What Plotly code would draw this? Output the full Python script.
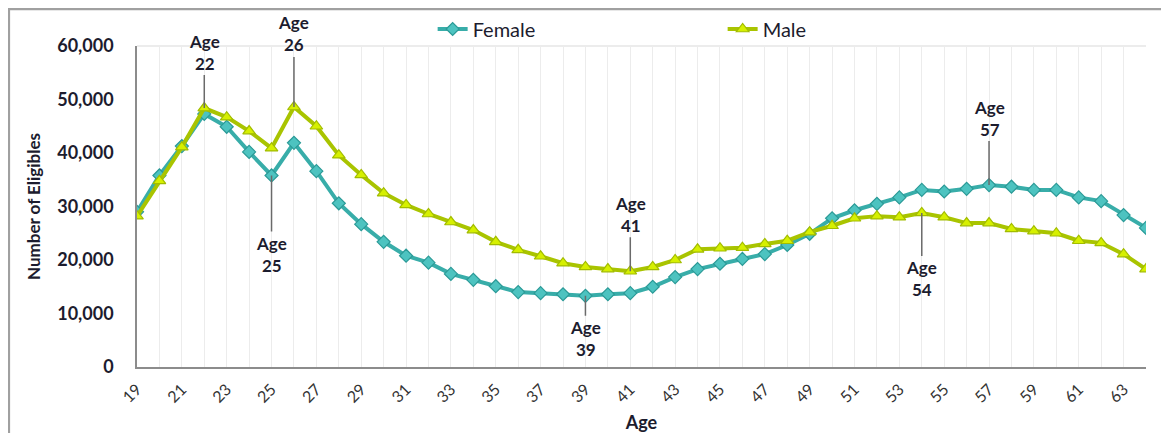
import plotly.graph_objects as go

ages = list(range(19, 65))
female = [29000, 35800, 41300, 47300, 44900, 40200, 35800, 41900, 36600, 30600,
          26700, 23400, 20800, 19500, 17400, 16300, 15100, 14000, 13800, 13600,
          13300, 13600, 13800, 15000, 16800, 18300, 19300, 20200, 21100, 22800,
          24900, 27800, 29300, 30500, 31700, 33100, 32800, 33300, 34000, 33700,
          33100, 33100, 31700, 31000, 28400, 26000]
male = [28200, 34800, 41100, 48400, 46700, 44100, 40900, 48600, 45000, 39600,
        35900, 32500, 30300, 28600, 27100, 25600, 23400, 21900, 20700, 19400,
        18700, 18300, 17900, 18700, 20000, 22000, 22200, 22300, 23000, 23600,
        25200, 26400, 27800, 28200, 28000, 28800, 28000, 26900, 26900, 25800,
        25400, 25000, 23600, 23200, 21100, 18300]
tick_vals = list(range(19, 65, 2))
y_ticks = [0, 10000, 20000, 30000, 40000, 50000, 60000]

# callouts: (age, series, offset)
callouts = [(22, "male", -56), (26, "male", -73), (25, "female", 79),
            (41, "male", -57), (39, "female", 43), (57, "female", -67),
            (54, "male", 66)]

FONT = "Lato, 'Open Sans', sans-serif"
TXT = "#1c1c2e"

fig = go.Figure()
fig.add_trace(go.Scatter(
    x=ages, y=female, name="Female", mode="lines+markers",
    line=dict(color="#38ADA9", width=4),
    marker=dict(symbol="diamond", size=10, color="#4DC3C0",
                line=dict(color="#2B9A97", width=1.2))))
fig.add_trace(go.Scatter(
    x=ages, y=male, name="Male", mode="lines+markers",
    line=dict(color="#A9C400", width=4),
    marker=dict(symbol="triangle-up", size=11, color="#D6F000",
                line=dict(color="#A2BC00", width=1.2))))

series = {"female": female, "male": male}
for age, s, off in callouts:
    yv = series[s][ages.index(age)]
    fig.add_annotation(x=age, y=yv, text=f"<b>Age<br>{age}</b>", showarrow=True,
                       arrowhead=0, arrowwidth=1.5, arrowcolor="#6a6a6a",
                       ax=0, ay=off, font=dict(family=FONT, size=17, color=TXT))

# chart frame and top border of plot
fig.add_shape(type="rect", xref="paper", yref="paper", x0=-0.127, x1=1.2,
              y0=-0.6, y1=1.115, line=dict(color="#a0a0a0", width=2.5),
              layer="below")
fig.add_shape(type="line", xref="paper", yref="paper", x0=0, x1=1, y0=1, y1=1,
              line=dict(color="#e6e6e6", width=1.5), layer="below")

fig.update_layout(
    width=1153, height=425,
    margin=dict(l=129, r=15, t=38, b=66, autoexpand=False),
    plot_bgcolor="white", paper_bgcolor="white",
    font=dict(family=FONT, color=TXT),
    showlegend=True,
    legend=dict(orientation="h", x=0.293, y=1.053, xanchor="left", yanchor="middle",
                entrywidth=245, entrywidthmode="pixels",
                font=dict(family=FONT, size=20, color=TXT), bgcolor="rgba(0,0,0,0)"),
    xaxis=dict(range=[19, 64], tickvals=tick_vals, tickangle=-45, automargin=False,
               showline=True, linecolor="#8c8c8c", linewidth=1.5,
               showgrid=True, gridcolor="#ececec", gridwidth=1,
               minor=dict(dtick=1, tick0=19, showgrid=True, gridcolor="#ececec"),
               ticks="", ticklabelstandoff=5,
               tickfont=dict(family=FONT, size=16, color="#333"),
               title=dict(text="<b>Age</b>", font=dict(family=FONT, size=18, color=TXT),
                          standoff=22),
               zeroline=False),
    yaxis=dict(range=[0, 60000], tickvals=y_ticks, tickformat=",", automargin=False,
               showline=True, linecolor="#8c8c8c", linewidth=1.5,
               showgrid=False, ticks="", ticklabelstandoff=18,
               tickfont=dict(family=FONT, size=18, color=TXT, weight="bold"),
               title=dict(text="<b>Number of Eligibles</b>",
                          font=dict(family=FONT, size=17, color=TXT), standoff=12),
               zeroline=False),
)

fig.write_html("out.html")
